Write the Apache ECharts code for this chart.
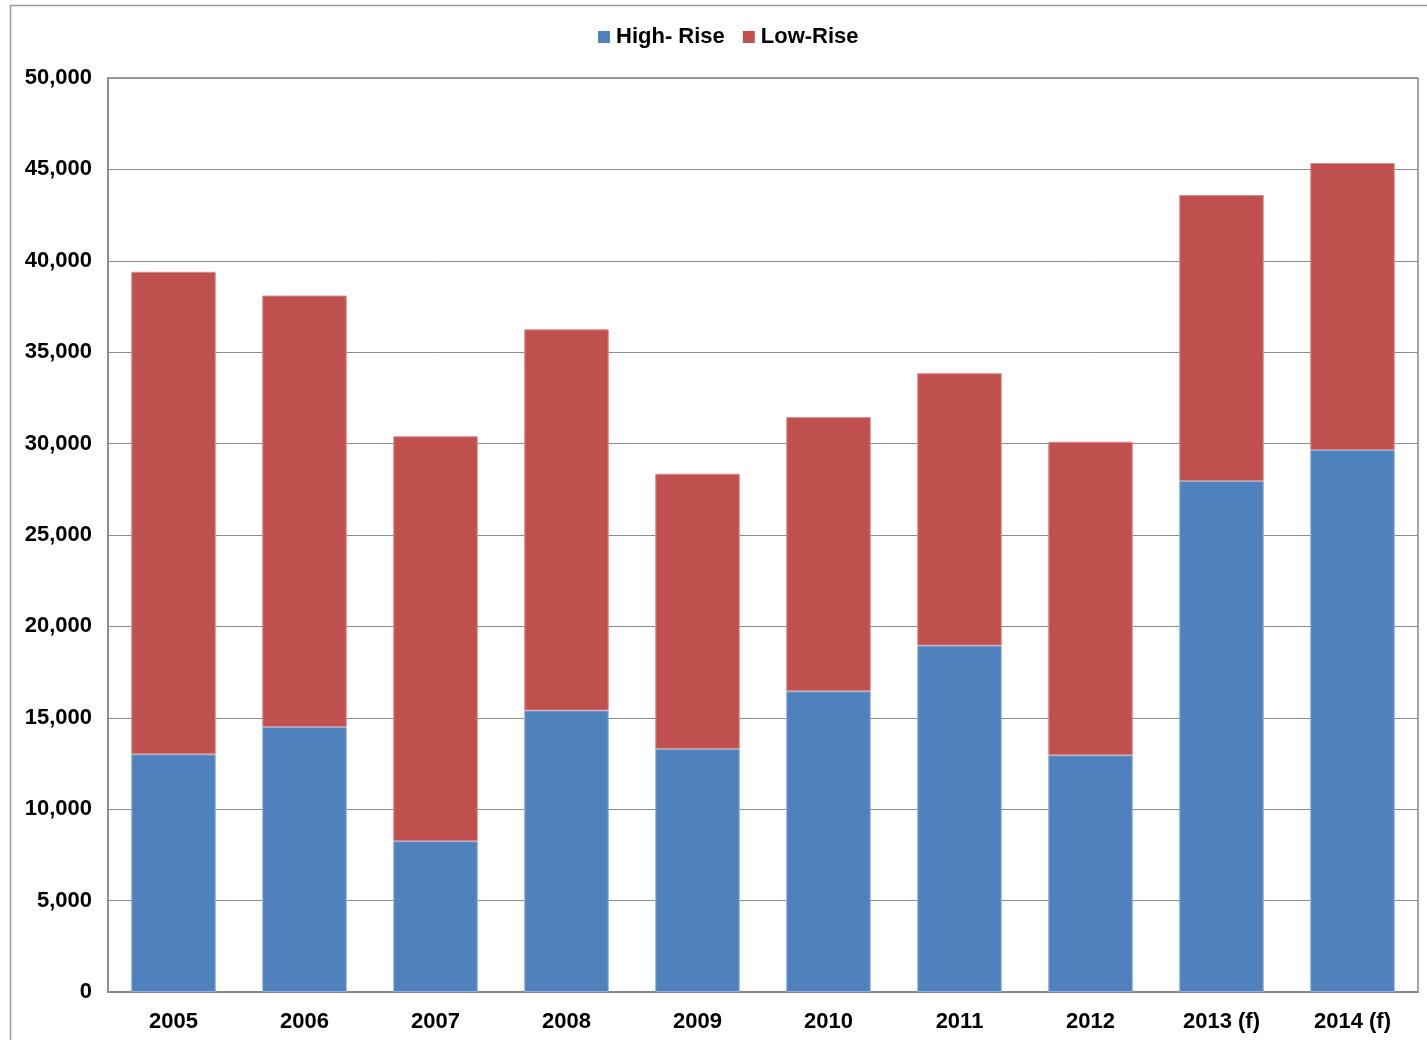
<!DOCTYPE html>
<html>
<head>
<meta charset="utf-8">
<script src="https://cdn.jsdelivr.net/npm/echarts@6/dist/echarts.min.js"></script>
<style>
    html, body {margin: 0; padding: 0; background: #fff;}
    #chart {width: 1427px; height: 1040px;}
</style>
</head>
<body>
<div id="chart"></div>
<script>
const years = ['2005', '2006', '2007', '2008', '2009', '2010', '2011', '2012', '2013 (f)', '2014 (f)'];
const highRise = [13000, 14500, 8250, 15400, 13300, 16450, 18950, 12950, 27950, 29650];
const lowRise = [26400, 23600, 22150, 20850, 15050, 15000, 14900, 17150, 15650, 15700];

const chart = echarts.init(document.getElementById('chart'));

const font = {fontFamily: 'Liberation Sans, Arial, sans-serif', fontWeight: 'bold', color: '#000', fontSize: 22};

chart.setOption({
    animation: false,
    graphic: [{
        type: 'rect',
        shape: {x: 10.5, y: 5.5, width: 1430, height: 1040},
        style: {fill: 'none', stroke: '#999', lineWidth: 1.5},
        silent: true
    }],
    legend: {
        top: 21,
        left: 593,
        itemWidth: 12,
        itemHeight: 12,
        itemGap: 18,
        icon: 'rect',
        itemStyle: {borderWidth: 0},
        textStyle: Object.assign({}, font, {padding: [0, 0, 0, 1]}),
        data: ['High- Rise', 'Low-Rise']
    },
    grid: {left: 108, top: 78, right: 9, bottom: 48, show: true, borderColor: '#888', borderWidth: 1.5},
    xAxis: {
        type: 'category',
        data: years,
        axisLine: {lineStyle: {color: '#888', width: 2}},
        axisTick: {show: false},
        axisLabel: Object.assign({}, font, {margin: 19})
    },
    yAxis: {
        type: 'value',
        min: 0,
        max: 50000,
        interval: 5000,
        axisLine: {show: true, lineStyle: {color: '#888', width: 1.5}},
        axisTick: {show: false},
        splitLine: {lineStyle: {color: '#8c8c8c', width: 1}},
        axisLabel: Object.assign({}, font, {
            margin: 16,
            formatter: v => v.toLocaleString('en-US')
        })
    },
    series: [{
        name: 'High- Rise',
        type: 'bar',
        stack: 'total',
        barWidth: '64.5%',
        data: highRise,
        itemStyle: {color: '#4f81bd', borderColor: '#8eb0dc', borderWidth: 1}
    }, {
        name: 'Low-Rise',
        type: 'bar',
        stack: 'total',
        data: lowRise,
        itemStyle: {color: '#c0504d', borderColor: '#d98c8a', borderWidth: 1}
    }]
});
</script>
</body>
</html>
